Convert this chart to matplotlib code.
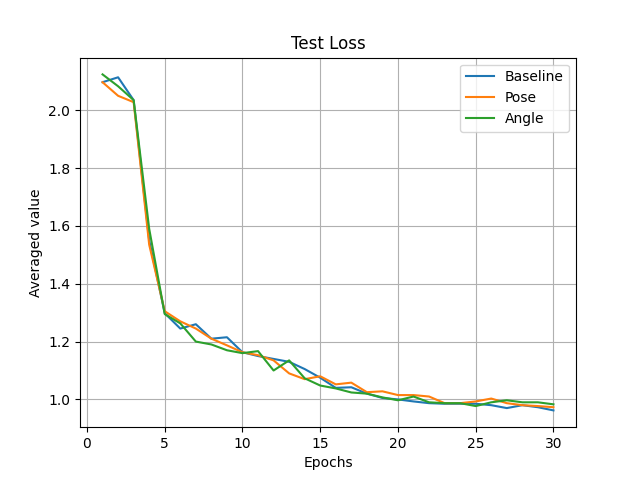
import matplotlib
matplotlib.use("Agg")
import matplotlib.pyplot as plt

epochs = list(range(1, 31))

baseline = [2.097, 2.114, 2.035, 1.55, 1.298, 1.245, 1.26, 1.21, 1.215, 1.163,
            1.15, 1.14, 1.13, 1.105, 1.075, 1.04, 1.042, 1.02, 1.005, 1.0,
            0.993, 0.987, 0.985, 0.985, 0.985, 0.98, 0.97, 0.98, 0.973, 0.962]
pose = [2.097, 2.05, 2.028, 1.535, 1.305, 1.27, 1.245, 1.21, 1.187, 1.163,
        1.153, 1.135, 1.09, 1.07, 1.08, 1.052, 1.058, 1.025, 1.028, 1.015,
        1.015, 1.01, 0.987, 0.987, 0.993, 1.003, 0.987, 0.98, 0.977, 0.973]
angle = [2.124, 2.083, 2.035, 1.59, 1.295, 1.263, 1.2, 1.19, 1.17, 1.16,
         1.167, 1.1, 1.135, 1.073, 1.048, 1.038, 1.024, 1.02, 1.007, 0.997,
         1.01, 0.99, 0.987, 0.987, 0.977, 0.99, 0.997, 0.99, 0.99, 0.983]

fig, ax = plt.subplots(figsize=(6.4, 4.8), dpi=100)
ax.plot(epochs, baseline, label="Baseline")
ax.plot(epochs, pose, label="Pose")
ax.plot(epochs, angle, label="Angle")

ax.set_title("Test Loss")
ax.set_xlabel("Epochs")
ax.set_ylabel("Averaged value")
ax.grid(True)
ax.legend()

fig.savefig("out.png")
